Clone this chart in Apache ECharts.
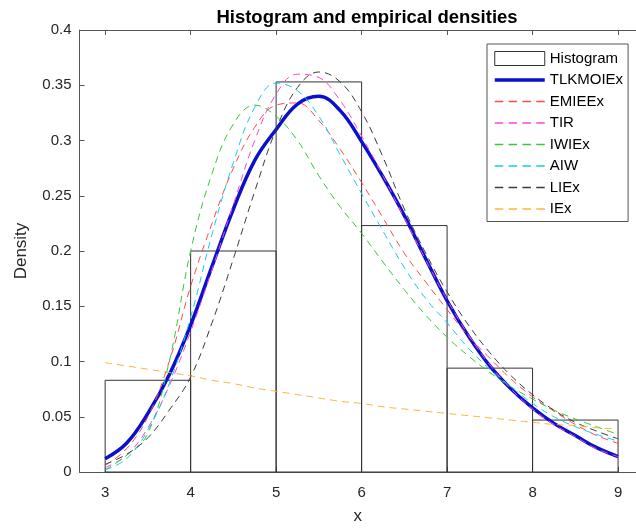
<!DOCTYPE html>
<html>
<head>
<meta charset="utf-8">
<script src="https://cdn.jsdelivr.net/npm/echarts@6/dist/echarts.min.js"></script>
<style>html,body{margin:0;padding:0;background:#fff;}#chart{width:636px;height:530px;}</style>
</head>
<body>
<div id="chart"></div>
<script>
var xTicks = [3, 4, 5, 6, 7, 8, 9];
var binEdges = [3, 4, 5, 6, 7, 8, 9];
var histHeights = [0.083, 0.2, 0.353, 0.223, 0.094, 0.047];
var xs = [3, 3.25, 3.5, 3.75, 4, 4.25, 4.5, 4.75, 5, 5.25, 5.5, 5.75, 6, 6.25, 6.5, 6.75, 7, 7.25, 7.5, 7.75, 8, 8.25, 8.5, 8.75, 9];
var TLKMOIEx = [0.012, 0.026, 0.053, 0.088, 0.133, 0.186, 0.238, 0.282, 0.310, 0.333, 0.340, 0.327, 0.299, 0.267, 0.232, 0.193, 0.155, 0.123, 0.096, 0.075, 0.058, 0.044, 0.033, 0.022, 0.014];
var EMIEEx = [0.006, 0.021, 0.050, 0.100, 0.168, 0.225, 0.275, 0.312, 0.332, 0.334, 0.318, 0.292, 0.262, 0.230, 0.198, 0.172, 0.147, 0.123, 0.103, 0.084, 0.068, 0.055, 0.043, 0.033, 0.026];
var TIR = [0.004, 0.015, 0.040, 0.078, 0.127, 0.183, 0.242, 0.300, 0.342, 0.360, 0.357, 0.336, 0.304, 0.268, 0.230, 0.192, 0.156, 0.124, 0.097, 0.075, 0.057, 0.043, 0.032, 0.021, 0.014];
var IWIEx = [0.002, 0.015, 0.035, 0.100, 0.200, 0.270, 0.315, 0.332, 0.322, 0.300, 0.268, 0.240, 0.216, 0.190, 0.165, 0.142, 0.122, 0.105, 0.090, 0.077, 0.066, 0.056, 0.048, 0.041, 0.034];
var AIW = [0.002, 0.012, 0.038, 0.080, 0.140, 0.215, 0.280, 0.330, 0.352, 0.345, 0.322, 0.287, 0.252, 0.218, 0.185, 0.157, 0.135, 0.112, 0.093, 0.077, 0.062, 0.050, 0.041, 0.034, 0.028];
var LIEx = [0.007, 0.016, 0.031, 0.056, 0.086, 0.135, 0.193, 0.254, 0.310, 0.348, 0.362, 0.353, 0.326, 0.285, 0.238, 0.198, 0.163, 0.133, 0.108, 0.087, 0.070, 0.056, 0.045, 0.037, 0.030];
var IEx = [0.099, 0.096, 0.093, 0.090, 0.087, 0.083, 0.080, 0.076, 0.073, 0.070, 0.067, 0.064, 0.062, 0.059, 0.057, 0.055, 0.053, 0.051, 0.049, 0.047, 0.045, 0.043, 0.042, 0.040, 0.039];

var curveDefs = [
  {name: 'TLKMOIEx', data: TLKMOIEx, color: '#0a10cc', width: 3.5, type: 'solid'},
  {name: 'EMIEEx', data: EMIEEx, color: '#ff4a4a', width: 1, type: [7, 5]},
  {name: 'TIR', data: TIR, color: '#ff44d8', width: 1, type: [7, 5]},
  {name: 'IWIEx', data: IWIEx, color: '#33cc33', width: 1, type: [7, 5]},
  {name: 'AIW', data: AIW, color: '#1cc8ec', width: 1, type: [7, 5]},
  {name: 'LIEx', data: LIEx, color: '#3c3c3c', width: 1, type: [7, 5]},
  {name: 'IEx', data: IEx, color: '#ffb43c', width: 1, type: [7, 5]}
];

var histData = histHeights.map(function (h, i) { return [binEdges[i], binEdges[i + 1], h]; });

var axisColor = '#555';
var font = 'Liberation Sans, Arial, Helvetica, sans-serif';
var dashIcon = 'path://M0 0h8v1.3h-8z M13 0h8v1.3h-8z M26 0h8v1.3h-8z M39 0h8v1.3h-8z';

var series = [{
  name: 'Histogram',
  type: 'custom',
  data: histData,
  encode: {x: [0, 1], y: 2},
  itemStyle: {color: '#ffffff', borderColor: '#333', borderWidth: 1},
  renderItem: function (params, api) {
    var p0 = api.coord([api.value(0), api.value(2)]);
    var p1 = api.coord([api.value(1), 0]);
    return {
      type: 'rect',
      shape: {x: p0[0], y: p0[1], width: p1[0] - p0[0], height: p1[1] - p0[1]},
      style: {fill: 'none', stroke: '#333', lineWidth: 1}
    };
  }
}];
curveDefs.forEach(function (c) {
  series.push({
    name: c.name,
    type: 'line',
    data: xs.map(function (x, i) { return [x, c.data[i]]; }),
    smooth: 0.4,
    symbol: 'none',
    color: c.color,
    itemStyle: {color: c.color},
    lineStyle: {color: c.color, width: c.width, type: c.type},
    emphasis: {disabled: true}
  });
});

var legendData = [{name: 'Histogram', icon: 'rect', itemStyle: {color: '#fff', borderColor: '#333', borderWidth: 1}}]
  .concat(curveDefs.map(function (c) {
    if (c.type === 'solid') {
      return {name: c.name, itemStyle: {opacity: 0}, lineStyle: {width: c.width}};
    }
    return {name: c.name, icon: dashIcon, itemStyle: {color: c.color, opacity: 1, borderWidth: 0}};
  }));

var chart = echarts.init(document.getElementById('chart'), null, {renderer: 'canvas'});
chart.setOption({
  animation: false,
  backgroundColor: '#fff',
  title: {
    text: 'Histogram and empirical densities',
    left: 362, top: 3, textAlign: 'center',
    textStyle: {fontFamily: font, fontSize: 18.5, fontWeight: 'bold', color: '#000'}
  },
  grid: {left: 79.5, top: 30, right: 0, height: 446, containLabel: false},
  legend: {
    orient: 'vertical', left: 487, top: 44,
    padding: [7, 5, 5, 6],
    itemWidth: 50, itemHeight: 14, itemGap: 6.5,
    borderColor: '#555', borderWidth: 1, backgroundColor: '#fff',
    textStyle: {fontFamily: font, fontSize: 15, color: '#000', lineHeight: 14},
    data: legendData,
    selectedMode: false
  },
  xAxis: [{
    type: 'value', min: 2.7, max: 9.21, position: 'bottom',
    name: 'x', nameLocation: 'middle', nameGap: 36,
    nameTextStyle: {fontFamily: font, fontSize: 17, color: '#262626'},
    axisLine: {show: true, onZero: false, lineStyle: {color: axisColor, width: 1}},
    axisTick: {show: true, inside: true, length: 5, customValues: xTicks, lineStyle: {color: axisColor}},
    axisLabel: {customValues: xTicks, fontFamily: font, fontSize: 15, color: '#262626', margin: 13},
    splitLine: {show: false}
  }, {
    type: 'value', min: 2.7, max: 9.21, position: 'top',
    axisLine: {show: true, onZero: false, lineStyle: {color: axisColor, width: 1}},
    axisTick: {show: true, inside: true, length: 5, customValues: xTicks, lineStyle: {color: axisColor}},
    axisLabel: {show: false},
    splitLine: {show: false}
  }],
  yAxis: [{
    type: 'value', min: 0, max: 0.4, interval: 0.05,
    name: 'Density', nameLocation: 'middle', nameGap: 50, nameRotate: 90,
    nameTextStyle: {fontFamily: font, fontSize: 17, color: '#262626'},
    axisLine: {show: true, onZero: false, lineStyle: {color: axisColor, width: 1}},
    axisTick: {show: true, inside: true, length: 5, lineStyle: {color: axisColor}},
    axisLabel: {fontFamily: font, fontSize: 15, color: '#262626', margin: 8,
      formatter: function (v) { return String(Math.round(v * 100) / 100); }},
    splitLine: {show: false}
  }],
  series: series
});
</script>
</body>
</html>
